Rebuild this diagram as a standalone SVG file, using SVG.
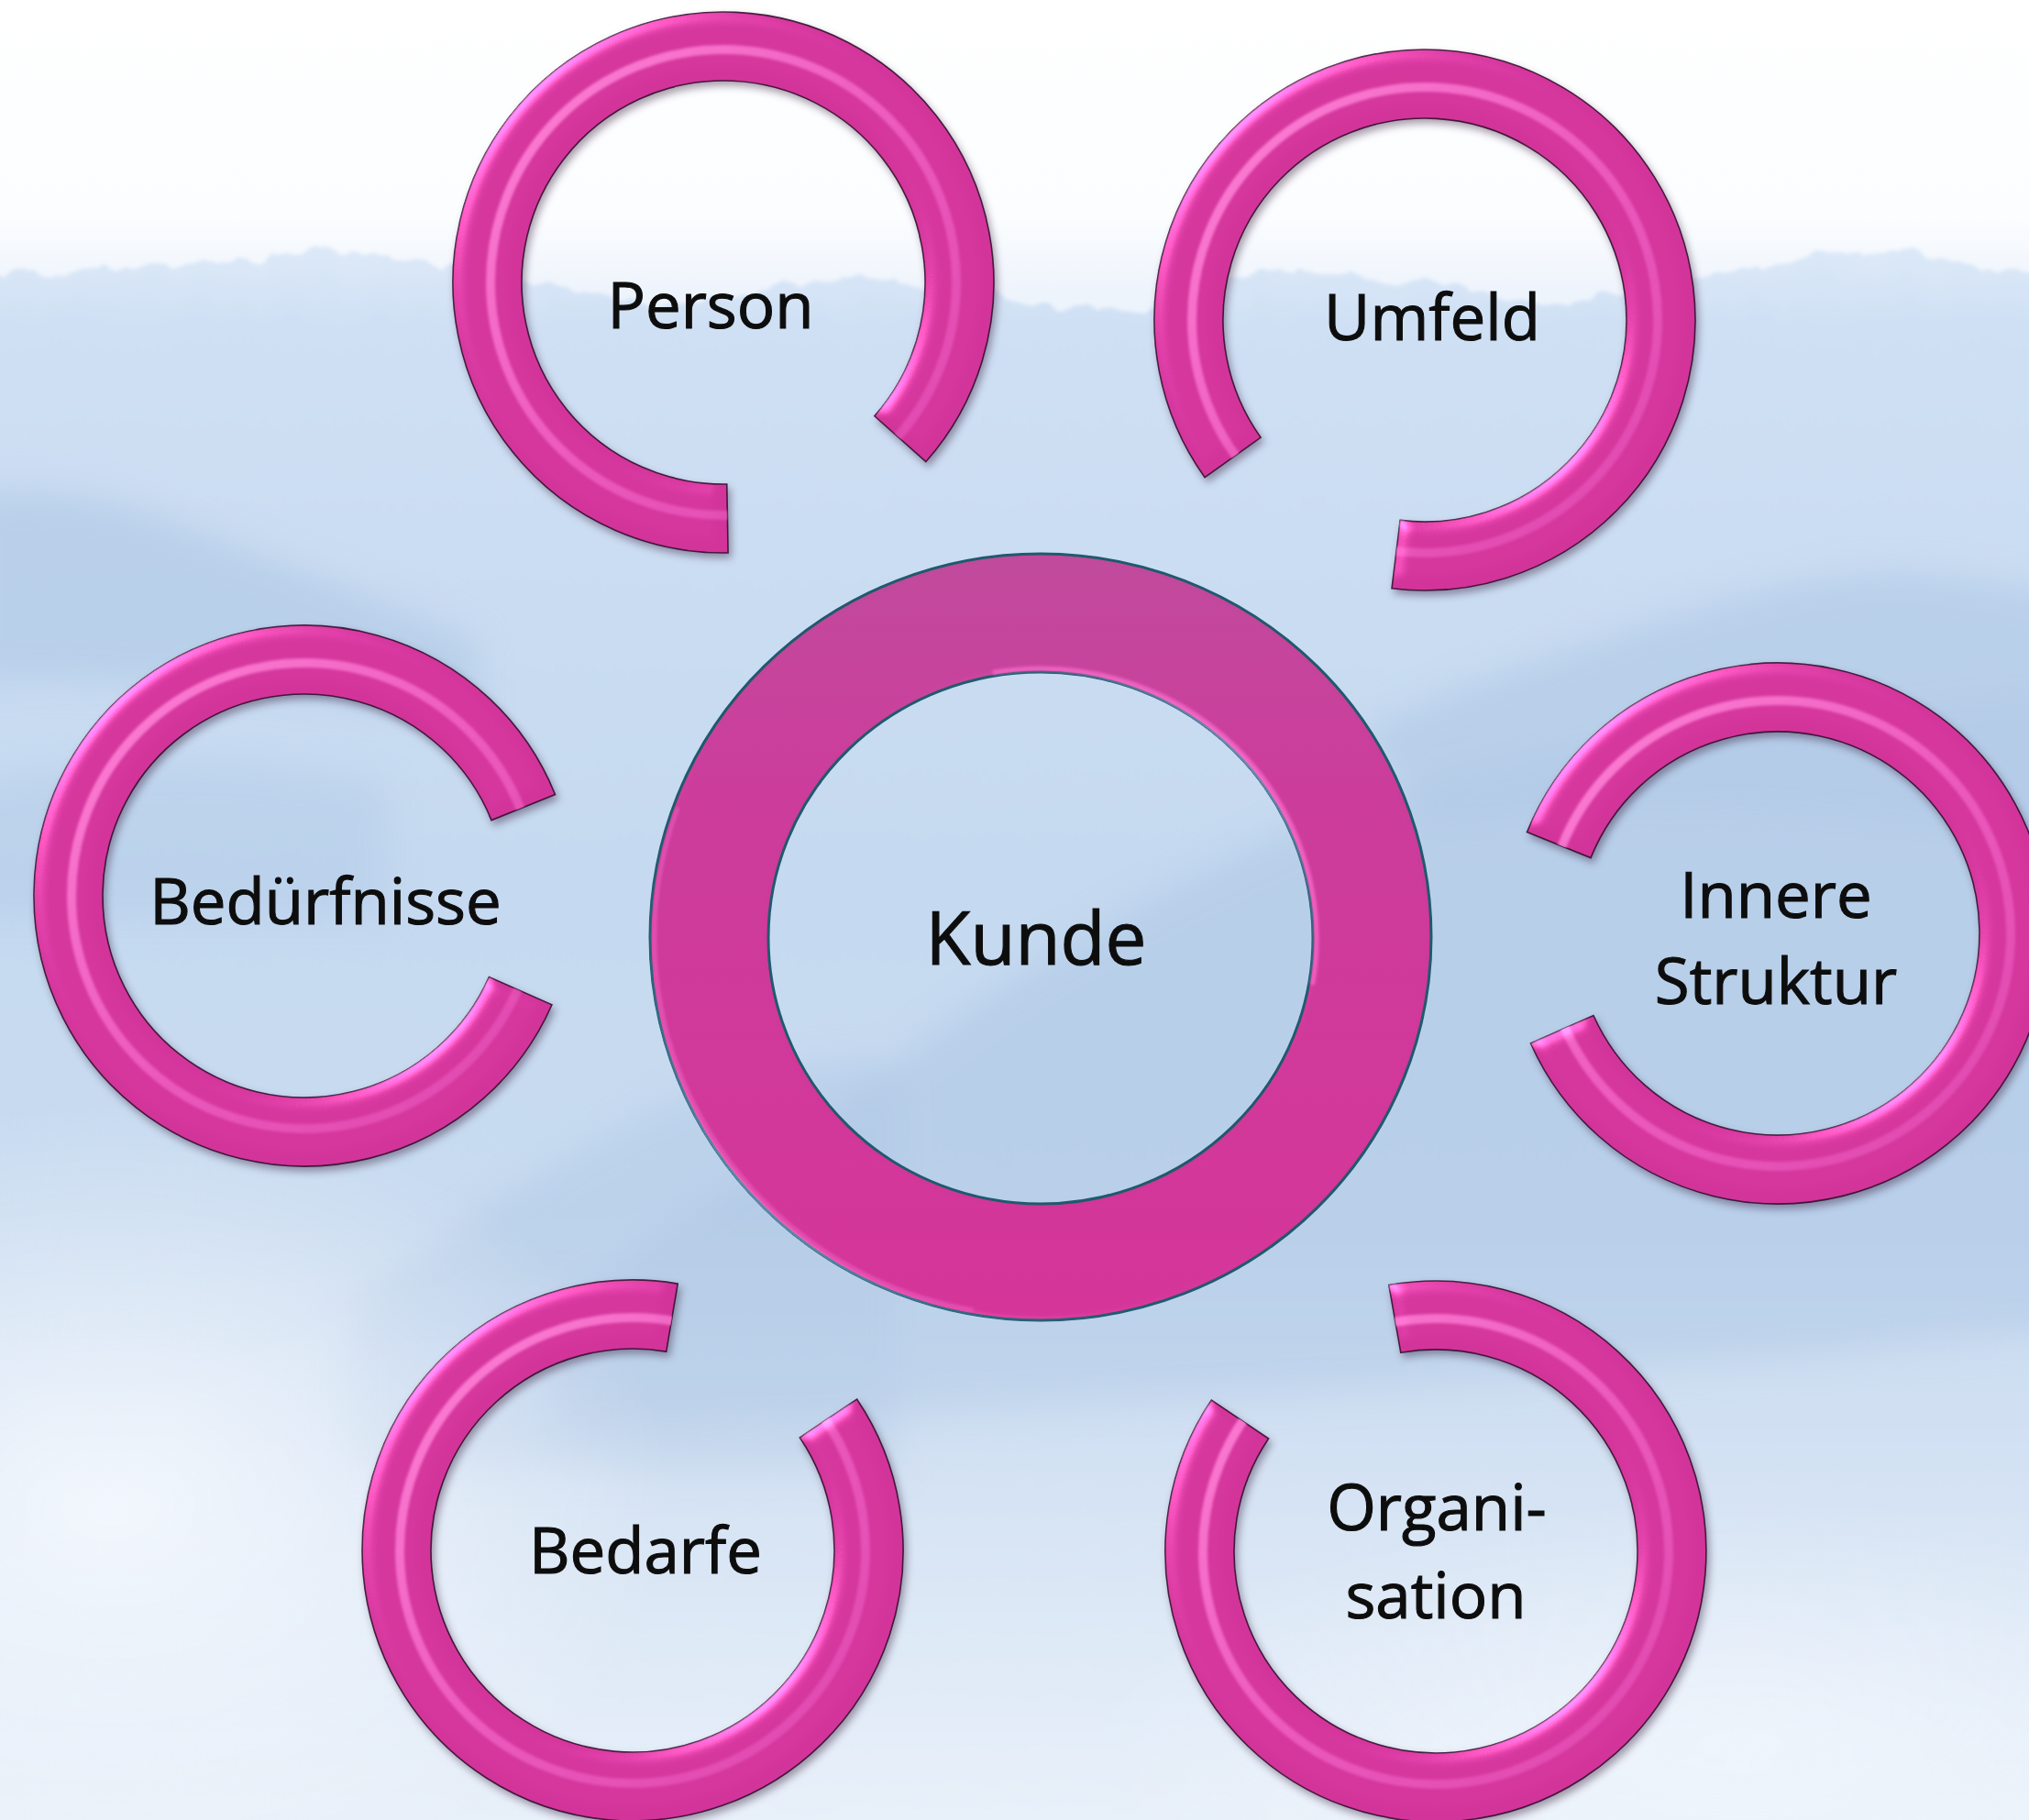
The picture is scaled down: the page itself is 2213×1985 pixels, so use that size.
<svg xmlns="http://www.w3.org/2000/svg" xmlns:xlink="http://www.w3.org/1999/xlink" width="2213" height="1985" viewBox="0 0 2213 1985">
  <style>
    .label { font-family: "Open Sans", "Noto Sans", "DejaVu Sans", sans-serif; font-size: 69px; fill: #0d0d0d; stroke: #0d0d0d; stroke-width: 1.1; text-anchor: middle; }
    .label-main { font-size: 80px; }
    .ring { fill: #d2349a; stroke: #2e0a28; stroke-width: 1.6; stroke-opacity: 0.85; }
    .stripe { fill: none; stroke: url(#stripeGrad); stroke-width: 10; filter: url(#soft2); }
  </style>
  <defs>
    <!-- sky and landscape -->
    <linearGradient id="sky" x1="0" y1="0" x2="0" y2="1">
      <stop offset="0" stop-color="#ffffff"/>
      <stop offset="0.12" stop-color="#fbfdff"/>
      <stop offset="0.16" stop-color="#eef4fc"/>
      <stop offset="1" stop-color="#e4edf9"/>
    </linearGradient>
    <linearGradient id="farHills" gradientUnits="userSpaceOnUse" x1="0" y1="270" x2="0" y2="1985">
      <stop offset="0" stop-color="#dde9f8"/>
      <stop offset="0.05" stop-color="#cfe0f4"/>
      <stop offset="0.4" stop-color="#c5d9f0"/>
      <stop offset="0.75" stop-color="#cadcf1"/>
      <stop offset="1" stop-color="#dce8f7"/>
    </linearGradient>
    <radialGradient id="mist" cx="0.5" cy="0.5" r="0.5">
      <stop offset="0" stop-color="#f4f8fe" stop-opacity="0.9"/>
      <stop offset="1" stop-color="#f4f8fe" stop-opacity="0"/>
    </radialGradient>
    <linearGradient id="groundFade" x1="0" y1="0" x2="0" y2="1">
      <stop offset="0" stop-color="#ffffff" stop-opacity="0"/>
      <stop offset="1" stop-color="#ffffff" stop-opacity="0.35"/>
    </linearGradient>
    <filter id="ragged" x="-2%" y="-5%" width="104%" height="110%">
      <feTurbulence type="fractalNoise" baseFrequency="0.03 0.015" numOctaves="3" seed="4" result="n"/>
      <feDisplacementMap in="SourceGraphic" in2="n" scale="26" xChannelSelector="R" yChannelSelector="G" result="d"/>
      <feGaussianBlur in="d" stdDeviation="2"/>
    </filter>
    <filter id="haze" x="-20%" y="-20%" width="140%" height="140%">
      <feGaussianBlur stdDeviation="18"/>
    </filter>
    <filter id="soft2" x="-5%" y="-5%" width="110%" height="110%">
      <feGaussianBlur stdDeviation="1.6"/>
    </filter>

    <!-- raised tube look for the open rings -->
    <filter id="tube" x="-10%" y="-10%" width="125%" height="125%" color-interpolation-filters="sRGB">
      <feGaussianBlur in="SourceAlpha" stdDeviation="8" result="bump"/>
      <feSpecularLighting in="bump" surfaceScale="6" specularConstant="0.9" specularExponent="22" lighting-color="#ffd2f2" result="spec">
        <feDistantLight azimuth="225" elevation="26"/>
      </feSpecularLighting>
      <feComposite in="spec" in2="SourceAlpha" operator="in" result="specIn"/>
      <feComposite in="SourceGraphic" in2="specIn" operator="arithmetic" k1="0" k2="1" k3="0.5" k4="0" result="lit"/>
      <feGaussianBlur in="SourceAlpha" stdDeviation="4" result="sb"/>
      <feOffset in="sb" dx="3" dy="5" result="so"/>
      <feFlood flood-color="#2a1030" flood-opacity="0.4"/>
      <feComposite in2="so" operator="in" result="shadow"/>
      <feMerge>
        <feMergeNode in="shadow"/>
        <feMergeNode in="lit"/>
      </feMerge>
    </filter>

    <!-- flatter bevel for the centre ring -->
    <filter id="flatBevel" x="-10%" y="-10%" width="120%" height="120%" color-interpolation-filters="sRGB">
      <feGaussianBlur in="SourceAlpha" stdDeviation="3" result="bump"/>
      <feSpecularLighting in="bump" surfaceScale="3" specularConstant="0.7" specularExponent="24" lighting-color="#ffc8ee" result="spec">
        <feDistantLight azimuth="135" elevation="28"/>
      </feSpecularLighting>
      <feComposite in="spec" in2="SourceAlpha" operator="in" result="specIn"/>
      <feComposite in="SourceGraphic" in2="specIn" operator="arithmetic" k1="0" k2="1" k3="0.35" k4="0"/>
    </filter>

    <linearGradient id="stripeGrad" x1="0" y1="0" x2="1" y2="1">
      <stop offset="0" stop-color="#ff86d8" stop-opacity="0.95"/>
      <stop offset="0.55" stop-color="#f264c6" stop-opacity="0.7"/>
      <stop offset="1" stop-color="#e656bb" stop-opacity="0.5"/>
    </linearGradient>
    <linearGradient id="hubFill" x1="0" y1="0" x2="0" y2="1">
      <stop offset="0" stop-color="#c04a9c"/>
      <stop offset="0.3" stop-color="#cb3c9a"/>
      <stop offset="1" stop-color="#d43498"/>
    </linearGradient>

    <!-- open ring outlines: outer radius 295, inner radius 220, cut radially -->
    <path id="p-person" d="M 794.1 603.0 A 295 295 0 1 1 1009.9 503.5 L 953.8 453.8 A 220 220 0 1 0 792.8 528.0 Z"/>
    <path id="p-umfeld" d="M 1314.1 520.7 A 295 295 0 1 1 1518.0 641.8 L 1527.2 567.4 A 220 220 0 1 0 1375.1 477.1 Z"/>
    <path id="p-beduerfnisse" d="M 602.0 1095.8 A 295 295 0 1 1 605.5 866.5 L 536.0 894.6 A 220 220 0 1 0 533.4 1065.6 Z"/>
    <path id="p-innere" d="M 1665.5 907.5 A 295 295 0 1 1 1669.5 1138.0 L 1738.0 1107.5 A 220 220 0 1 0 1735.0 935.6 Z"/>
    <path id="p-bedarfe" d="M 934.6 1526.0 A 295 295 0 1 1 739.2 1400.1 L 726.7 1474.1 A 220 220 0 1 0 872.4 1568.0 Z"/>
    <path id="p-organisation" d="M 1514.8 1401.5 A 295 295 0 1 1 1321.4 1527.0 L 1383.6 1569.0 A 220 220 0 1 0 1527.8 1475.3 Z"/>

    <clipPath id="c-person"><use xlink:href="#p-person"/></clipPath>
    <clipPath id="c-umfeld"><use xlink:href="#p-umfeld"/></clipPath>
    <clipPath id="c-beduerfnisse"><use xlink:href="#p-beduerfnisse"/></clipPath>
    <clipPath id="c-innere"><use xlink:href="#p-innere"/></clipPath>
    <clipPath id="c-bedarfe"><use xlink:href="#p-bedarfe"/></clipPath>
    <clipPath id="c-organisation"><use xlink:href="#p-organisation"/></clipPath>
  </defs>

  <!-- background landscape -->
  <g id="background">
    <rect x="0" y="0" width="2213" height="1985" fill="url(#sky)"/>
    <path filter="url(#ragged)" fill="url(#farHills)" d="M -20 305 L 85 296 L 183 289 L 282 280 L 381 272 L 440 282 L 480 290 L 540 300 L 593 310 L 650 322 L 706 332 L 790 327 L 850 312 L 903 303 L 988 308 L 1073 318 L 1157 336 L 1242 339 L 1290 325 L 1327 313 L 1370 300 L 1411 294 L 1496 303 L 1595 313 L 1694 332 L 1778 318 L 1877 299 L 1976 282 L 2061 271 L 2145 289 L 2233 296 L 2233 2005 L -20 2005 Z"/>
    <g filter="url(#haze)" fill="#b2cae7">
      <path opacity="0.7" d="M -40 540 C 80 520 170 560 270 600 C 350 630 430 660 520 700 L 520 780 C 380 760 200 740 -40 740 Z"/>
      <path opacity="0.7" d="M 1480 800 C 1620 740 1820 660 2000 630 C 2100 615 2180 640 2260 650 L 2260 920 C 2000 880 1800 870 1560 900 Z"/>
      <path opacity="0.7" d="M 600 1430 C 750 1330 930 1190 1073 1090 C 1160 1030 1260 975 1411 905 C 1600 830 1850 790 2260 760 L 2260 1450 C 1800 1500 1200 1540 600 1560 Z"/>
      <path opacity="0.55" d="M 380 1420 C 480 1360 600 1260 720 1210 C 820 1170 900 1150 980 1160 L 980 1600 L 380 1600 Z"/>
      <path opacity="0.45" d="M -40 860 C 150 820 300 830 420 860 L 420 1000 L -40 1000 Z"/>
    </g>
    <ellipse cx="120" cy="1640" rx="620" ry="440" fill="url(#mist)"/>
    <ellipse cx="1900" cy="1900" rx="700" ry="260" fill="url(#mist)" opacity="0.6"/>
    <rect x="0" y="1300" width="2213" height="685" fill="url(#groundFade)"/>
  </g>

  <g id="connectors"/>

  <!-- centre ring -->
  <g id="node-kunde">
    <g filter="url(#flatBevel)">
      <path fill="url(#hubFill)" fill-rule="evenodd" stroke="#1f5a6c" stroke-width="3" d="M 709 1022 a 426 418 0 1 0 852 0 a 426 418 0 1 0 -852 0 Z M 838 1023 a 297 290 0 1 0 594 0 a 297 290 0 1 0 -594 0 Z"/>
    </g>
    <path d="M 1082.7 733.5 A 301 294 0 0 1 1431.4 1074.1" fill="none" stroke="#ff70d0" stroke-width="5" opacity="0.65" filter="url(#soft2)"/>
    <path d="M 1061.9 1428.7 A 421 413 0 0 1 739.4 880.7" fill="none" stroke="#f268c6" stroke-width="4" opacity="0.5" filter="url(#soft2)"/>
    <text class="label label-main" x="1130" y="1052">Kunde</text>
  </g>

  <!-- surrounding open rings -->
  <g id="node-person">
    <g filter="url(#tube)">
      <use xlink:href="#p-person" class="ring"/>
      <circle class="stripe" cx="789" cy="308" r="254" clip-path="url(#c-person)"/>
    </g>
    <text class="label" x="775" y="358">Person</text>
  </g>

  <g id="node-umfeld">
    <g filter="url(#tube)">
      <use xlink:href="#p-umfeld" class="ring"/>
      <circle class="stripe" cx="1554" cy="349" r="254" clip-path="url(#c-umfeld)"/>
    </g>
    <text class="label" x="1562" y="371">Umfeld</text>
  </g>

  <g id="node-beduerfnisse">
    <g filter="url(#tube)">
      <use xlink:href="#p-beduerfnisse" class="ring"/>
      <circle class="stripe" cx="332" cy="977" r="254" clip-path="url(#c-beduerfnisse)"/>
    </g>
    <text class="label" x="355" y="1008">Bedürfnisse</text>
  </g>

  <g id="node-innere-struktur">
    <g filter="url(#tube)">
      <use xlink:href="#p-innere" class="ring"/>
      <circle class="stripe" cx="1939" cy="1018" r="254" clip-path="url(#c-innere)"/>
    </g>
    <text class="label" x="1937" y="1001">Innere</text>
    <text class="label" x="1937" y="1095">Struktur</text>
  </g>

  <g id="node-bedarfe">
    <g filter="url(#tube)">
      <use xlink:href="#p-bedarfe" class="ring"/>
      <circle class="stripe" cx="690" cy="1691" r="254" clip-path="url(#c-bedarfe)"/>
    </g>
    <text class="label" x="704" y="1716">Bedarfe</text>
  </g>

  <g id="node-organisation">
    <g filter="url(#tube)">
      <use xlink:href="#p-organisation" class="ring"/>
      <circle class="stripe" cx="1566" cy="1692" r="254" clip-path="url(#c-organisation)"/>
    </g>
    <text class="label" x="1567" y="1669">Organi-</text>
    <text class="label" x="1566" y="1765">sation</text>
  </g>
</svg>
